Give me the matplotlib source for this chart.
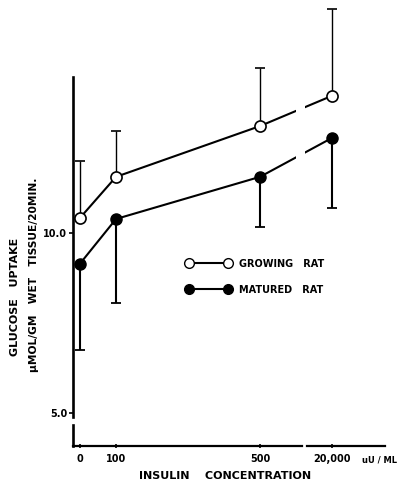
import matplotlib.pyplot as plt
from matplotlib.lines import Line2D

# insulin concentration (uU/ml); 20,000 is drawn after an axis break
dosis = ["0", "100", "500", "20,000"]
posicion = [0, 100, 500, 700]

# glucose uptake, umol/gm wet tissue/20 min
crecimiento = [10.42, 11.56, 12.97, 13.81]
crecimiento_tope = [12.0, 12.83, 14.58, 16.22]
maduro = [9.15, 10.39, 11.56, 12.64]
maduro_fondo = [6.75, 8.06, 10.17, 10.69]

err_crec = [[0] * 4, [t - m for t, m in zip(crecimiento_tope, crecimiento)]]
err_mad = [[m - b for m, b in zip(maduro, maduro_fondo)], [0] * 4]

plt.rcParams["font.family"] = ["DejaVu Sans"]
plt.rcParams["font.weight"] = "bold"

fig = plt.figure(figsize=(4, 4.92), dpi=100)
ax = fig.add_axes([60 / 400, 22 / 492, 335 / 400, 470 / 492])
ax.set_xlim(-55.6, 875)
ax.set_ylim(3.42, 16.47)

ax.errorbar(posicion, crecimiento, yerr=err_crec, fmt="none", ecolor="black",
            elinewidth=1.0, capsize=3.5, capthick=1.2, zorder=1)
ax.errorbar(posicion, maduro, yerr=err_mad, fmt="none", ecolor="black",
            elinewidth=1.5, capsize=3.5, capthick=1.3, zorder=1)
ax.plot(posicion, crecimiento, color="black", lw=1.5, marker="o", ms=8,
        mfc="white", mec="black", mew=1.2, zorder=2)
ax.plot(posicion, maduro, color="black", lw=1.5, marker="o", ms=8,
        mfc="black", mec="black", zorder=2)
# break in the lines before 20,000
ax.axvspan(600, 624, ymin=0.15, ymax=0.85, color="white", lw=0, zorder=2.5)

for s in ["top", "right"]:
    ax.spines[s].set_visible(False)
ax.spines["left"].set_position(("data", -20))
ax.spines["left"].set_bounds(4.89, 14.33)
ax.spines["left"].set_linewidth(1.9)
ax.spines["bottom"].set_position(("data", 4.08))
ax.spines["bottom"].set_bounds(-20, 617)
ax.spines["bottom"].set_linewidth(1.6)
ax.plot([-20, -20], [4.08, 4.67], color="black", lw=1.9, clip_on=False)
ax.plot([630, 847], [4.08, 4.08], color="black", lw=1.6, clip_on=False)

ax.set_yticks([5, 10])
ax.set_yticklabels(["5.0", "10.0"], fontsize=7, fontweight="bold")
ax.tick_params(axis="y", length=3, width=1.2, pad=1)
ax.set_xticks(posicion)
ax.set_xticklabels(dosis, fontsize=7, fontweight="bold")
ax.tick_params(axis="x", length=3, width=1.2, direction="inout", pad=4)

fig.text(15 / 400, 1 - 297 / 492, "GLUCOSE   UPTAKE", rotation=90,
         ha="center", va="center", fontsize=8, fontweight="bold")
fig.text(34 / 400, 1 - 275 / 492, "\u00b5MOL/GM   WET   TISSUE/20MIN.", rotation=90,
         ha="center", va="center", fontsize=7.7, fontweight="bold")
fig.text(225 / 400, 1 - 476 / 492, "INSULIN    CONCENTRATION",
         ha="center", va="center", fontsize=8, fontweight="bold")
fig.text(379 / 400, 1 - 460 / 492, "uU / ML",
         ha="center", va="center", fontsize=6, fontweight="bold")

manejadores = [
    Line2D([0], [0], color="black", lw=1.5, marker="o", ms=7, mfc="white", mec="black"),
    Line2D([0], [0], color="black", lw=1.5, marker="o", ms=7, mfc="black", mec="black"),
]
ax.legend(manejadores, ["GROWING   RAT", "MATURED   RAT"], numpoints=2,
          handlelength=4.6, handletextpad=0.9, labelspacing=1.65, frameon=False,
          prop={"size": 7, "weight": "bold"},
          loc="upper left", bbox_to_anchor=(177 / 400, 1 - 250 / 492),
          bbox_transform=fig.transFigure)

fig.savefig("out.png", dpi=100)
